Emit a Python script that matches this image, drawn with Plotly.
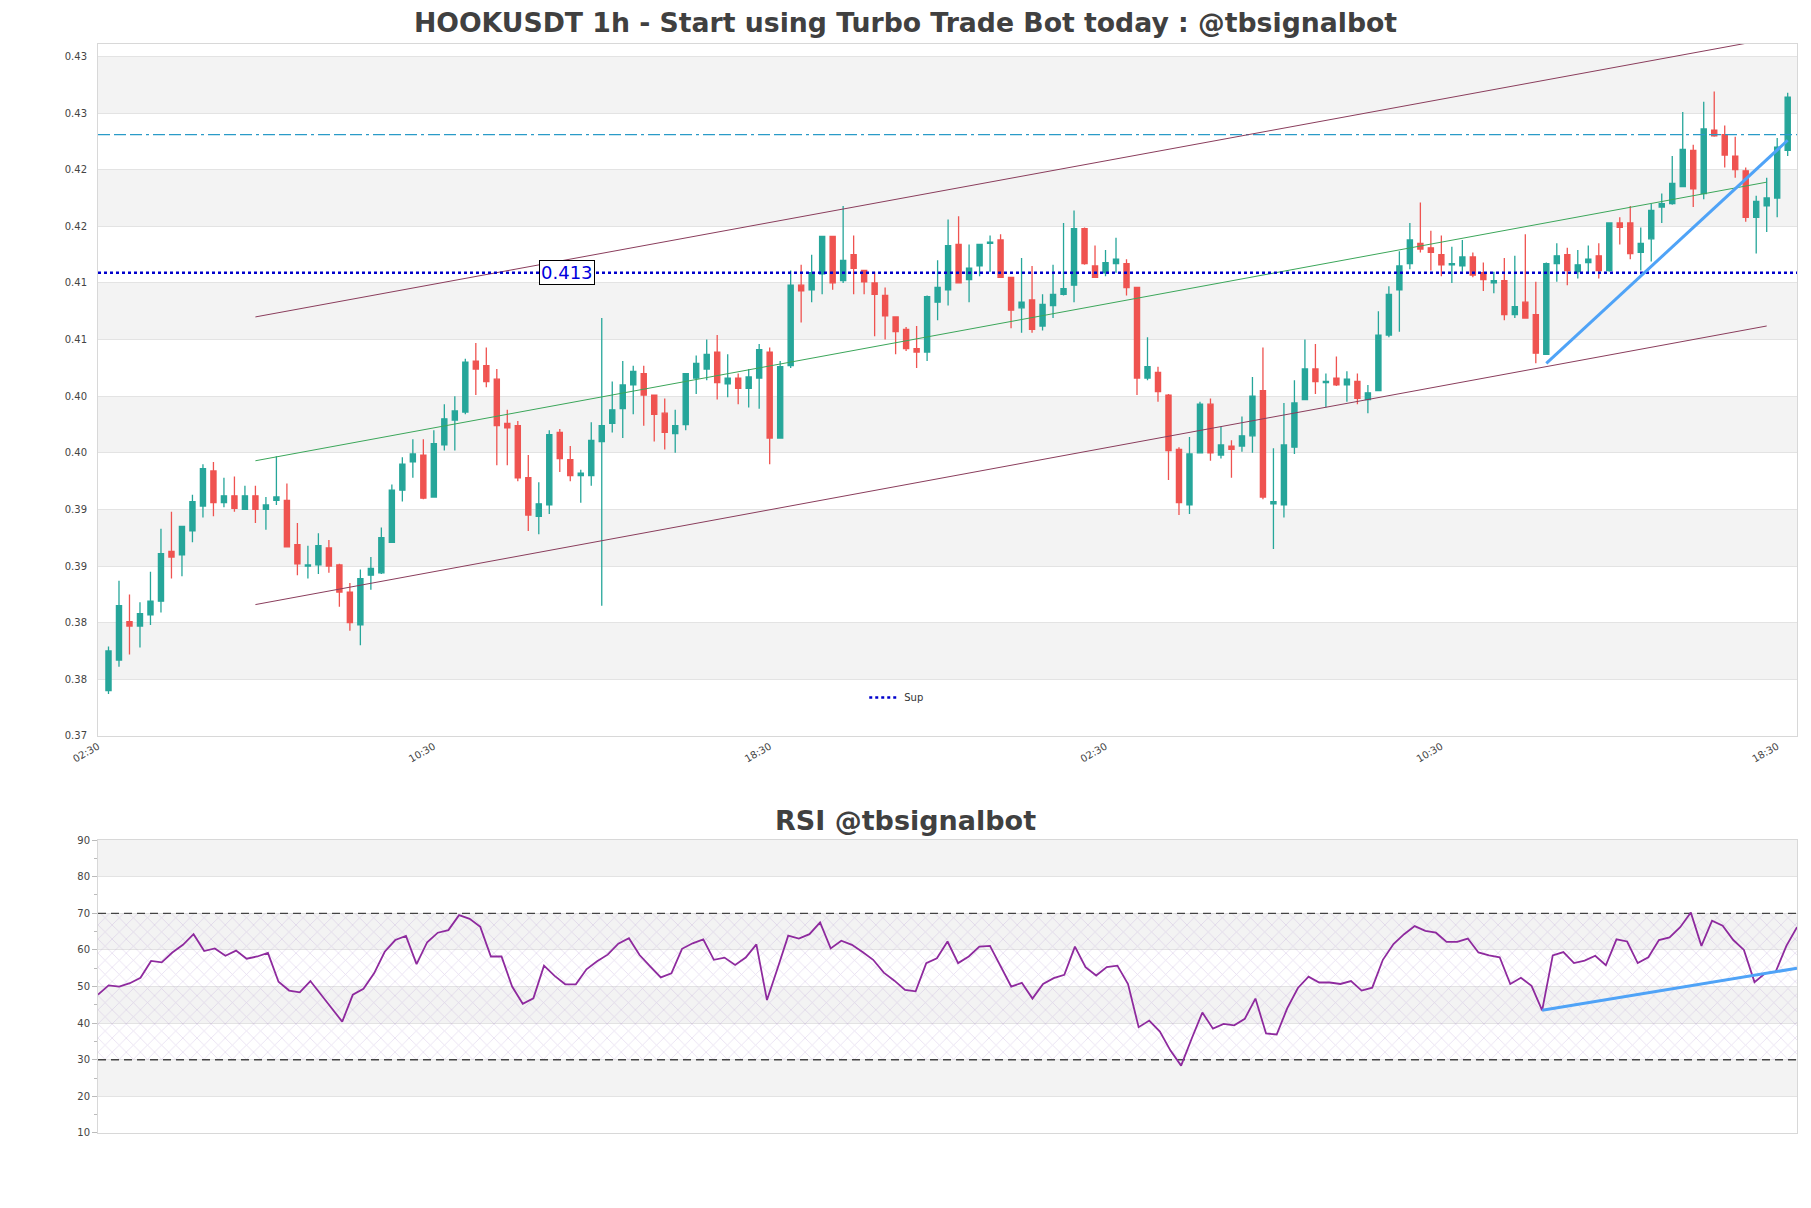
import pandas as pd
import plotly.graph_objects as go

# ---------------- data ----------------
start_time = "2024-01-01 02:45"
bar_minutes = 15

open_ = [0.3765, 0.3792, 0.3826, 0.3822, 0.3832, 0.3844, 0.3888, 0.3885, 0.3906, 0.3928,
         0.3959, 0.3931, 0.3937, 0.3925, 0.3937, 0.3925, 0.3933, 0.3933, 0.3894, 0.3875,
         0.3876, 0.3891, 0.3876, 0.3852, 0.3823, 0.3867, 0.3869, 0.3896, 0.3942, 0.3967,
         0.3973, 0.3936, 0.3982, 0.4004, 0.4011, 0.4056, 0.4052, 0.4040, 0.4001, 0.3999,
         0.3953, 0.3919, 0.3929, 0.3993, 0.3969, 0.3955, 0.3955, 0.3985, 0.4001, 0.4014,
         0.4035, 0.4045, 0.4026, 0.4010, 0.3992, 0.4000, 0.4041, 0.4049, 0.4064, 0.4036,
         0.4041, 0.4032, 0.4041, 0.4064, 0.3988, 0.4052, 0.4123, 0.4119, 0.4133, 0.4166,
         0.4127, 0.4150, 0.4136, 0.4125, 0.4114, 0.4095, 0.4084, 0.4067, 0.4064, 0.4108,
         0.4119, 0.4159, 0.4128, 0.4140, 0.4160, 0.4163, 0.4130, 0.4103, 0.4110, 0.4087,
         0.4105, 0.4115, 0.4123, 0.4173, 0.4140, 0.4134, 0.4142, 0.4142, 0.4121, 0.4041,
         0.4046, 0.4026, 0.3978, 0.3929, 0.3975, 0.4018, 0.3973, 0.3981, 0.3981, 0.3990,
         0.4030, 0.3930, 0.3929, 0.3980, 0.4022, 0.4049, 0.4037, 0.4041, 0.4035, 0.4038,
         0.4022, 0.4030, 0.4079, 0.4119, 0.4142, 0.4160, 0.4156, 0.4150, 0.4141, 0.4140,
         0.4148, 0.4134, 0.4125, 0.4127, 0.4097, 0.4108, 0.4097, 0.4062, 0.4142, 0.4150,
         0.4135, 0.4143, 0.4149, 0.4136, 0.4178, 0.4178, 0.4152, 0.4164, 0.4192, 0.4195,
         0.4210, 0.4242, 0.4204, 0.4260, 0.4256, 0.4237, 0.4224, 0.4183, 0.4193, 0.4200,
         0.4242]
high = [0.3804, 0.3862, 0.3850, 0.3843, 0.3870, 0.3908, 0.3923, 0.3910, 0.3938, 0.3965,
        0.3967, 0.3953, 0.3954, 0.3946, 0.3946, 0.3936, 0.3972, 0.3948, 0.3913, 0.3893,
        0.3904, 0.3898, 0.3877, 0.3860, 0.3872, 0.3883, 0.3909, 0.3947, 0.3971, 0.3987,
        0.3987, 0.3995, 0.4018, 0.4025, 0.4058, 0.4072, 0.4068, 0.4049, 0.4013, 0.4003,
        0.3973, 0.3949, 0.3995, 0.3996, 0.3981, 0.3960, 0.4002, 0.4094, 0.4038, 0.4056,
        0.4052, 0.4052, 0.4026, 0.4023, 0.4013, 0.4045, 0.4061, 0.4075, 0.4079, 0.4062,
        0.4045, 0.4049, 0.4071, 0.4068, 0.4056, 0.4136, 0.4141, 0.4150, 0.4166, 0.4166,
        0.4193, 0.4167, 0.4136, 0.4135, 0.4121, 0.4095, 0.4086, 0.4087, 0.4114, 0.4145,
        0.4181, 0.4184, 0.4159, 0.4159, 0.4167, 0.4168, 0.4130, 0.4147, 0.4140, 0.4115,
        0.4141, 0.4178, 0.4189, 0.4174, 0.4158, 0.4154, 0.4165, 0.4146, 0.4121, 0.4077,
        0.4051, 0.4027, 0.3980, 0.3989, 0.4020, 0.4023, 0.3998, 0.3986, 0.4007, 0.4042,
        0.4068, 0.3979, 0.4019, 0.4039, 0.4075, 0.4071, 0.4045, 0.4060, 0.4047, 0.4045,
        0.4035, 0.4100, 0.4122, 0.4153, 0.4178, 0.4196, 0.4171, 0.4167, 0.4157, 0.4163,
        0.4152, 0.4143, 0.4135, 0.4147, 0.4149, 0.4168, 0.4126, 0.4143, 0.4160, 0.4156,
        0.4154, 0.4158, 0.4160, 0.4178, 0.4183, 0.4193, 0.4174, 0.4195, 0.4204, 0.4237,
        0.4276, 0.4247, 0.4285, 0.4294, 0.4264, 0.4254, 0.4227, 0.4202, 0.4218, 0.4253,
        0.4293]
low = [0.3762, 0.3786, 0.3797, 0.3803, 0.3823, 0.3834, 0.3864, 0.3866, 0.3896, 0.3918,
       0.3919, 0.3927, 0.3923, 0.3925, 0.3913, 0.3907, 0.3929, 0.3892, 0.3867, 0.3864,
       0.3868, 0.3869, 0.3839, 0.3818, 0.3805, 0.3854, 0.3868, 0.3896, 0.3932, 0.3953,
       0.3934, 0.3936, 0.3977, 0.3977, 0.4009, 0.4026, 0.4033, 0.3964, 0.3964, 0.3950,
       0.3906, 0.3903, 0.3921, 0.3958, 0.3950, 0.3931, 0.3946, 0.3840, 0.3993, 0.3988,
       0.4009, 0.3999, 0.3985, 0.3978, 0.3975, 0.3995, 0.4027, 0.4039, 0.4022, 0.4024,
       0.4018, 0.4015, 0.4014, 0.3965, 0.3988, 0.4050, 0.4090, 0.4108, 0.4115, 0.4119,
       0.4125, 0.4115, 0.4115, 0.4078, 0.4075, 0.4062, 0.4065, 0.4050, 0.4056, 0.4092,
       0.4105, 0.4125, 0.4108, 0.4131, 0.4135, 0.4130, 0.4085, 0.4081, 0.4081, 0.4083,
       0.4094, 0.4114, 0.4108, 0.4141, 0.4130, 0.4131, 0.4134, 0.4114, 0.4026, 0.4039,
       0.4020, 0.3951, 0.3920, 0.3921, 0.3975, 0.3968, 0.3970, 0.3953, 0.3976, 0.3975,
       0.3934, 0.3890, 0.3918, 0.3974, 0.4022, 0.4027, 0.4015, 0.4034, 0.4020, 0.4018,
       0.4010, 0.4030, 0.4077, 0.4082, 0.4137, 0.4152, 0.4136, 0.4131, 0.4125, 0.4135,
       0.4130, 0.4118, 0.4116, 0.4092, 0.4094, 0.4094, 0.4054, 0.4062, 0.4126, 0.4123,
       0.4129, 0.4134, 0.4129, 0.4135, 0.4159, 0.4146, 0.4136, 0.4144, 0.4178, 0.4194,
       0.4210, 0.4192, 0.4199, 0.4254, 0.4227, 0.4218, 0.4179, 0.4151, 0.4170, 0.4183,
       0.4237]
close = [0.3800, 0.3840, 0.3822, 0.3833, 0.3844, 0.3886, 0.3883, 0.3910, 0.3932, 0.3961,
         0.3931, 0.3937, 0.3926, 0.3937, 0.3925, 0.3929, 0.3936, 0.3892, 0.3877, 0.3876,
         0.3893, 0.3875, 0.3852, 0.3825, 0.3864, 0.3873, 0.3900, 0.3942, 0.3965, 0.3974,
         0.3935, 0.3983, 0.4005, 0.4012, 0.4055, 0.4049, 0.4038, 0.3999, 0.3997, 0.3953,
         0.3920, 0.3930, 0.3991, 0.3970, 0.3955, 0.3957, 0.3986, 0.3999, 0.4013, 0.4035,
         0.4047, 0.4026, 0.4009, 0.3993, 0.3999, 0.4045, 0.4054, 0.4062, 0.4037, 0.4041,
         0.4032, 0.4042, 0.4066, 0.3988, 0.4051, 0.4123, 0.4118, 0.4134, 0.4166, 0.4125,
         0.4145, 0.4138, 0.4126, 0.4115, 0.4096, 0.4082, 0.4067, 0.4064, 0.4113, 0.4121,
         0.4158, 0.4125, 0.4138, 0.4159, 0.4161, 0.4130, 0.4101, 0.4108, 0.4084, 0.4106,
         0.4115, 0.4120, 0.4173, 0.4142, 0.4130, 0.4143, 0.4146, 0.4121, 0.4041, 0.4051,
         0.4029, 0.3977, 0.3931, 0.3974, 0.4018, 0.3975, 0.3982, 0.3978, 0.3990, 0.4025,
         0.3936, 0.3932, 0.3982, 0.4019, 0.4049, 0.4038, 0.4038, 0.4035, 0.4040, 0.4023,
         0.4028, 0.4079, 0.4115, 0.4140, 0.4163, 0.4155, 0.4152, 0.4141, 0.4142, 0.4148,
         0.4132, 0.4128, 0.4127, 0.4097, 0.4104, 0.4094, 0.4063, 0.4142, 0.4149, 0.4136,
         0.4141, 0.4146, 0.4136, 0.4178, 0.4174, 0.4151, 0.4160, 0.4189, 0.4195, 0.4213,
         0.4243, 0.4208, 0.4261, 0.4255, 0.4238, 0.4225, 0.4183, 0.4197, 0.4200, 0.4245,
         0.4289]

rsi = [47.8, 50.3, 50.0, 50.9, 52.4, 57.0, 56.6, 59.3, 61.4, 64.3,
       59.7, 60.4, 58.4, 59.8, 57.6, 58.2, 59.2, 51.3, 48.9, 48.4,
       51.5, 47.9, 44.3, 40.4, 47.8, 49.4, 53.6, 59.5, 62.7, 63.8,
       56.1, 62.1, 64.7, 65.4, 69.5, 68.5, 66.3, 58.2, 58.2, 50.0,
       45.3, 46.8, 55.7, 52.9, 50.6, 50.6, 54.7, 56.9, 58.7, 61.7,
       63.2, 58.6, 55.5, 52.5, 53.6, 60.3, 61.8, 62.9, 57.3, 57.9,
       55.9, 57.9, 61.5, 46.3, 55.0, 63.9, 63.1, 64.3, 67.5, 60.4,
       62.5, 61.4, 59.4, 57.3, 53.8, 51.6, 49.1, 48.7, 56.4, 57.7,
       62.3, 56.4, 58.2, 60.9, 61.1, 55.5, 50.0, 51.0, 46.7, 50.7,
       52.3, 53.2, 60.9, 55.3, 53.0, 55.3, 55.7, 50.7, 38.9, 40.7,
       37.7, 32.5, 28.4, 35.8, 42.9, 38.5, 39.8, 39.4, 41.2, 46.7,
       37.2, 36.9, 44.1, 49.6, 52.7, 51.1, 51.1, 50.7, 51.5, 48.9,
       49.7, 57.3, 61.6, 64.3, 66.5, 65.2, 64.7, 62.2, 62.2, 63.1,
       59.3, 58.5, 58.0, 50.7, 52.4, 50.2, 43.5, 58.5, 59.4, 56.4,
       57.1, 58.4, 55.8, 62.9, 62.3, 56.4, 58.0, 62.7, 63.4, 66.2,
       70.2, 61.1, 68.0, 66.6, 62.7, 60.0, 51.2, 53.6, 54.1, 61.1,
       66.2]

sup_level = 0.4134
sup_label = "0.413"
res_level = 0.4256

channel_idx = [14, 158]
channel_upper = [0.4095, 0.4340]
channel_mid = [0.3968, 0.4214]
channel_lower = [0.3841, 0.4087]

trend_idx = [137, 160]
trend_price = [0.4054, 0.4251]
rsi_trend_idx = [136, 160]
rsi_trend_vals = [43.5, 55.0]

price_ticks = [0.3725, 0.3775, 0.3825, 0.3875, 0.3925, 0.3975, 0.4025,
               0.4075, 0.4125, 0.4175, 0.4225, 0.4275, 0.4325]
price_tick_text = ["0.37", "0.38", "0.38", "0.39", "0.39", "0.40", "0.40",
                   "0.41", "0.41", "0.42", "0.42", "0.43", "0.43"]
rsi_ticks = [10, 20, 30, 40, 50, 60, 70, 80, 90]
rsi_levels = [30, 70]
time_tick0 = "2024-01-01 02:30"
time_tick_hours = 8

main_title = "HOOKUSDT 1h - Start using Turbo Trade Bot today : @tbsignalbot"
rsi_title = "RSI @tbsignalbot"

# ---------------- figure ----------------
times = pd.date_range(start_time, periods=len(close), freq=f"{bar_minutes}min")
x_left = times[0] - pd.Timedelta(minutes=15)
x_right = times[-1] + pd.Timedelta(minutes=13.3)

FONT = "DejaVu Sans"
BAND = "#f3f3f3"
GRID = "#e3e3e3"
FRAME = "#d8d8d8"

fig = go.Figure()

# resistance dash-dot line
fig.add_trace(go.Scatter(x=[x_left, x_right], y=[res_level, res_level], mode="lines",
                         line=dict(color="#2a9bc8", width=1.2,
                                   dash="12px,4px,12px,4px,12px,4px,3px,4px"),
                         showlegend=False, xaxis="x", yaxis="y", hoverinfo="skip"))

# channel lines
fig.add_trace(go.Scatter(x=[times[i] for i in channel_idx], y=channel_upper, mode="lines",
                         line=dict(color="#8a3d5c", width=1), showlegend=False,
                         xaxis="x", yaxis="y", hoverinfo="skip"))
fig.add_trace(go.Scatter(x=[times[i] for i in channel_idx], y=channel_lower, mode="lines",
                         line=dict(color="#8a3d5c", width=1), showlegend=False,
                         xaxis="x", yaxis="y", hoverinfo="skip"))
fig.add_trace(go.Scatter(x=[times[i] for i in channel_idx], y=channel_mid, mode="lines",
                         line=dict(color="#3ba65a", width=1), showlegend=False,
                         xaxis="x", yaxis="y", hoverinfo="skip"))

fig.add_trace(go.Candlestick(
    x=times, open=open_, high=high, low=low, close=close,
    increasing=dict(line=dict(color="#26a69a", width=1.3), fillcolor="#26a69a"),
    decreasing=dict(line=dict(color="#ef5350", width=1.3), fillcolor="#ef5350"),
    showlegend=False, xaxis="x", yaxis="y"))

# support line (legend)
fig.add_trace(go.Scatter(x=[x_left, x_right], y=[sup_level, sup_level], mode="lines",
                         name="Sup", line=dict(color="#0000cc", width=2.5, dash="dot"),
                         xaxis="x", yaxis="y"))

# trend line on price
fig.add_trace(go.Scatter(x=[times[i] for i in trend_idx], y=trend_price, mode="lines",
                         line=dict(color="#4fa3f7", width=3), showlegend=False,
                         xaxis="x", yaxis="y"))

# RSI hatch band
fig.add_trace(go.Scatter(x=[times[0], times[-1], times[-1], times[0], times[0]],
                         y=[rsi_levels[0], rsi_levels[0], rsi_levels[1], rsi_levels[1], rsi_levels[0]],
                         mode="lines", fill="toself", fillcolor="rgba(0,0,0,0)",
                         fillpattern=dict(shape="x", fgcolor="rgba(170,140,205,0.6)",
                                          bgcolor="rgba(0,0,0,0)", size=10, solidity=0.15),
                         line=dict(width=0), showlegend=False, hoverinfo="skip",
                         xaxis="x2", yaxis="y2"))

# RSI level lines
for lv in rsi_levels:
    fig.add_trace(go.Scatter(x=[times[0], times[-1]], y=[lv, lv], mode="lines",
                             line=dict(color="#444444", width=1.3, dash="8px,5px"),
                             showlegend=False, hoverinfo="skip", xaxis="x2", yaxis="y2"))

fig.add_trace(go.Scatter(x=times, y=rsi, mode="lines",
                         line=dict(color="#8e2a9e", width=1.8), showlegend=False,
                         xaxis="x2", yaxis="y2"))
fig.add_trace(go.Scatter(x=[times[i] for i in rsi_trend_idx], y=rsi_trend_vals, mode="lines",
                         line=dict(color="#4fa3f7", width=3), showlegend=False,
                         xaxis="x2", yaxis="y2"))

shapes = []
for k in range(1, len(price_ticks) - 1, 2):
    shapes.append(dict(type="rect", xref="x domain", yref="y", x0=0, x1=1,
                       y0=price_ticks[k], y1=price_ticks[k + 1],
                       fillcolor=BAND, line=dict(width=0), layer="below"))
for k in range(1, len(rsi_ticks) - 1, 2):
    shapes.append(dict(type="rect", xref="x2 domain", yref="y2", x0=0, x1=1,
                       y0=rsi_ticks[k], y1=rsi_ticks[k + 1],
                       fillcolor=BAND, line=dict(width=0), layer="below"))

annotations = [
    dict(x=times[44], y=sup_level, xref="x", yref="y", text=sup_label, showarrow=False,
         font=dict(family=FONT, size=18, color="#0000dd"), bgcolor="white",
         bordercolor="black", borderwidth=1, borderpad=1, xshift=-3),
    dict(x=0.4752, y=0.2874, xref="paper", yref="paper", text=f"<b>{rsi_title}</b>",
         showarrow=False, font=dict(family=FONT, size=27, color="#404040"),
         xanchor="center", yanchor="middle"),
]

fig.update_layout(
    width=1811, height=1208,
    margin=dict(l=98, r=14, t=44, b=75),
    paper_bgcolor="white", plot_bgcolor="white",
    font=dict(family=FONT, size=10, color="#444444"),
    title=dict(text=f"<b>{main_title}</b>", x=0.5, xref="container", xanchor="center",
               y=1 - 23 / 1208, yref="container", yanchor="middle",
               font=dict(family=FONT, size=26.7, color="#404040")),
    showlegend=True,
    legend=dict(x=0.451, y=0.40, xanchor="left", yanchor="middle",
                bgcolor="rgba(0,0,0,0)", font=dict(size=10, color="#333333"),
                itemwidth=30),
    xaxis=dict(domain=[0, 1], anchor="y", range=[x_left, x_right], type="date",
               rangeslider=dict(visible=False), showgrid=False,
               tick0=time_tick0, dtick=time_tick_hours * 3600 * 1000,
               tickformat="%H:%M", tickangle=-30, tickfont=dict(size=10, color="#444444"),
               showline=True, linecolor=FRAME, mirror=True, ticks=""),
    yaxis=dict(domain=[0.3646, 1], anchor="x", range=[0.3725, 0.4336],
               tickvals=price_ticks, ticktext=price_tick_text,
               showgrid=True, gridcolor=GRID, gridwidth=1, zeroline=False,
               showline=True, linecolor=FRAME, mirror=True, ticks="",
               ticklabelstandoff=8, tickfont=dict(size=10, color="#444444")),
    xaxis2=dict(domain=[0, 1], anchor="y2", range=[times[0], times[-1]], type="date",
                showgrid=False, showticklabels=False, showline=True, linecolor=FRAME,
                mirror=True, ticks=""),
    yaxis2=dict(domain=[0, 0.269], anchor="x2", range=[10, 90], tickvals=rsi_ticks,
                showgrid=True, gridcolor=GRID, gridwidth=1, zeroline=False,
                showline=True, linecolor=FRAME, mirror=True,
                ticks="outside", ticklen=5, tickcolor="#bbbbbb",
                minor=dict(ticks="outside", ticklen=3, tickcolor="#bbbbbb", dtick=5, showgrid=False),
                tickfont=dict(size=10, color="#444444")),
    shapes=shapes,
    annotations=annotations,
)

fig.write_html("out.html")
